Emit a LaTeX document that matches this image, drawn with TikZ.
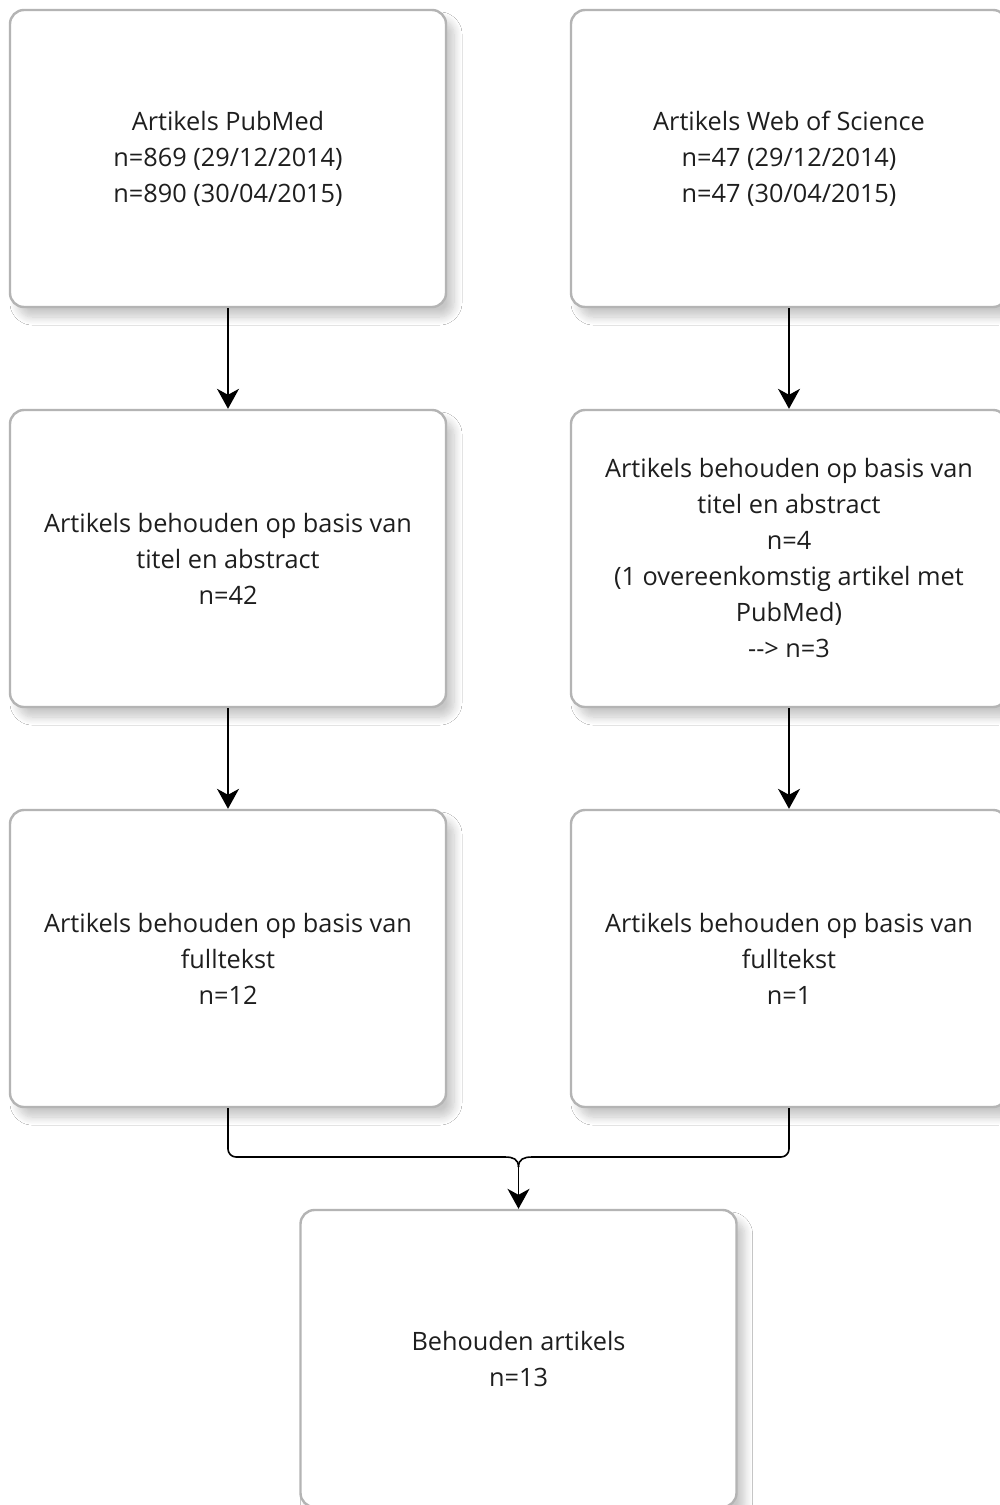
\documentclass[tikz,border=0pt]{standalone}
\usepackage{fontspec}
\setmainfont{Open Sans}
\usetikzlibrary{arrows.meta,shadows.blur}
\definecolor{boxline}{HTML}{B4B4B4}
\definecolor{txt}{HTML}{1E1E1E}
\tikzset{
  flowbox/.style={draw=boxline, line width=2.4pt, fill=white, rounded corners=14pt,
    minimum width=436pt, minimum height=297pt, align=center, text=txt,
    font=\fontsize{25.3}{36}\selectfont,
    blur shadow={shadow xshift=8pt, shadow yshift=-10pt, shadow blur radius=8pt, shadow blur steps=10, shadow opacity=22}},
  conn/.style={draw=black, line width=1.6pt},
  arr/.style={conn, -{Stealth[length=20pt,width=22pt,inset=6pt]}}
}
\begin{document}
\begin{tikzpicture}[x=1pt,y=-1pt]
\useasboundingbox (0,0) rectangle (999,1505);
\fill[white] (0,0) rectangle (999,1505);
\node[flowbox] (L1) at (228,158.5) {Artikels PubMed\\n=869 (29/12/2014)\\n=890 (30/04/2015)};
\node[flowbox] (R1) at (789,158.5) {Artikels Web of Science\\n=47 (29/12/2014)\\n=47 (30/04/2015)};
\node[flowbox] (L2) at (228,558.5) {Artikels behouden op basis van\\titel en abstract\\n=42};
\node[flowbox] (R2) at (789,558.5) {Artikels behouden op basis van\\titel en abstract\\n=4\\(1 overeenkomstig artikel met\\PubMed)\\{-}{-}> n=3};
\node[flowbox] (L3) at (228,958.5) {Artikels behouden op basis van\\fulltekst\\n=12};
\node[flowbox] (R3) at (789,958.5) {Artikels behouden op basis van\\fulltekst\\n=1};
\node[flowbox] (B) at (518.5,1358.5) {Behouden artikels\\n=13};
\draw[arr] (L1.south) -- (L2.north);
\draw[arr] (R1.south) -- (R2.north);
\draw[arr] (L2.south) -- (L3.north);
\draw[arr] (R2.south) -- (R3.north);
\coordinate (jl) at (505,1157);
\coordinate (jr) at (532,1157);
\coordinate (j) at (518.5,1167);
\draw[conn, rounded corners=8pt] (L3.south) |- (jl);
\draw[conn, rounded corners=8pt] (R3.south) |- (jr);
\draw[conn] (jl) .. controls (513,1157) and (518.5,1159) .. (j);
\draw[conn] (jr) .. controls (524,1157) and (518.5,1159) .. (j);
\draw[arr] (j) -- (B.north);
\end{tikzpicture}
\end{document}
